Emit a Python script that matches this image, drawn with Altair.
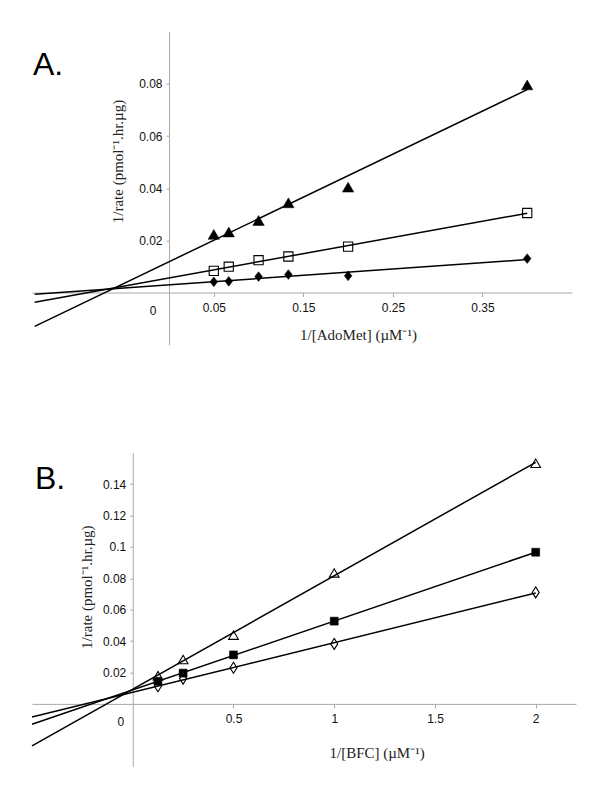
import altair as alt
import pandas as pd

# ---------------- data ----------------
a_x = [0.05, 0.0667, 0.1, 0.1333, 0.2, 0.4]
a_tri = [0.0223, 0.0232, 0.0276, 0.0344, 0.0404, 0.0796]
a_sq = [0.0083, 0.0099, 0.0124, 0.0138, 0.0176, 0.0305]
a_dia = [0.0041, 0.0043, 0.0061, 0.0069, 0.0064, 0.0130]

b_x = [0.125, 0.25, 0.5, 1.0, 2.0]
b_tri = [0.0180, 0.0283, 0.0438, 0.0834, 0.1533]
b_sq = [0.0144, 0.0196, 0.0312, 0.0527, 0.0966]
b_dia = [0.0112, 0.0161, 0.0230, 0.0382, 0.0710]

a_xticks = [0.05, 0.15, 0.25, 0.35]
a_yticks = [0.02, 0.04, 0.06, 0.08]
b_xticks = [0.5, 1, 1.5, 2]
b_yticks = [0.02, 0.04, 0.06, 0.08, 0.1, 0.12, 0.14]

a_xtitle = "1/[AdoMet] (\u00b5M\u207b\u00b9)"
b_xtitle = "1/[BFC] (\u00b5M\u207b\u00b9)"
ytitle = "1/rate (pmol\u207b\u00b9.hr.\u00b5g)"

DIAMOND_A = "M0,-1L0.78,0L0,1L-0.78,0Z"
DIAMOND_B = "M0,-1L0.64,0L0,1L-0.64,0Z"

AXIS_GRAY = "#a8a8a8"
NUM_FONT = "Liberation Sans"
TITLE_FONT = "Liberation Serif"


def frame(xs, tri, sq, dia):
    rows = []
    for name, ys in (("tri", tri), ("sq", sq), ("dia", dia)):
        for x, y in zip(xs, ys):
            rows.append({"x": x, "y": y, "s": name})
    return pd.DataFrame(rows)


def panel(df, xdom, ydom, w, h, xticks, yticks, xtitle, ext, styles, letter,
          letter_pos, ytitle_pos, xtitle_pos, zero_dx):
    # pixel location of the zero lines inside the plot
    x0_px = (0 - xdom[0]) / (xdom[1] - xdom[0]) * w
    y0_px = (ydom[1] - 0) / (ydom[1] - ydom[0]) * h
    x_off = -(h - y0_px)
    y_off = -x0_px

    xenc = alt.X(
        "x:Q",
        scale=alt.Scale(domain=xdom, nice=False, zero=False),
        axis=alt.Axis(
            values=xticks, format="~g", offset=x_off, grid=False,
            domainColor=AXIS_GRAY, domainWidth=1, tickColor=AXIS_GRAY,
            tickSize=4, labelPadding=6, labelFont=NUM_FONT, labelFontSize=12,
            labelColor="#111", title=xtitle, titleFont=TITLE_FONT,
            titleFontSize=15, titleFontWeight="normal", titleColor="#222",
            titleX=xtitle_pos[0], titleY=xtitle_pos[1] - y0_px,
            titleAlign="center", titleBaseline="middle",
        ),
    )
    yenc = alt.Y(
        "y:Q",
        scale=alt.Scale(domain=ydom, nice=False, zero=False),
        axis=alt.Axis(
            values=yticks, format="~g", offset=y_off, grid=False,
            domainColor=AXIS_GRAY, domainWidth=1, tickColor=AXIS_GRAY,
            tickSize=3, labelPadding=4, labelFont=NUM_FONT, labelFontSize=12,
            labelColor="#111", title=ytitle, titleFont=TITLE_FONT,
            titleFontSize=15, titleFontWeight="normal", titleColor="#222",
            titleX=ytitle_pos[0] - x0_px, titleY=ytitle_pos[1],
            titleAlign="center", titleBaseline="middle", titleAngle=270,
        ),
    )

    base = alt.Chart(df)
    lines = base.transform_regression(
        "x", "y", groupby=["s"], extent=ext
    ).mark_line(color="black", strokeWidth=1.5).encode(
        x=xenc, y=yenc, detail="s:N"
    )

    layers = [lines]
    for name, shape, filled, size in styles:
        sub = base.transform_filter(alt.datum.s == name)
        if filled:
            mk = sub.mark_point(shape=shape, filled=True, fill="black",
                                stroke="black", strokeWidth=0.5, size=size,
                                opacity=1)
        else:
            mk = sub.mark_point(shape=shape, filled=False, stroke="black",
                                strokeWidth=1.1, size=size, opacity=1)
        layers.append(mk.encode(x=xenc, y=yenc))

    zero = alt.Chart(pd.DataFrame({"t": ["0"]})).mark_text(
        text="0", font=NUM_FONT, fontSize=12, color="#111", dx=zero_dx, dy=18,
        align="center", baseline="middle"
    ).encode(x=alt.datum(0), y=alt.datum(0))

    lab = alt.Chart(pd.DataFrame({"t": [letter]})).mark_text(
        text=letter, font=NUM_FONT, fontSize=32, color="black",
        align="left", baseline="alphabetic"
    ).encode(x=alt.value(letter_pos[0]), y=alt.value(letter_pos[1]))

    return alt.layer(*layers, zero, lab).properties(width=w, height=h)


df_a = frame(a_x, a_tri, a_sq, a_dia)
df_b = frame(b_x, b_tri, b_sq, b_dia)

chart_a = panel(
    df_a, [-0.153, 0.45], [-0.02, 0.10], 540, 313, a_xticks, a_yticks,
    a_xtitle, [-0.15, 0.4],
    [("tri", "triangle-up", True, 130), ("sq", "square", False, 85),
     ("dia", DIAMOND_A, True, 95)],
    "A.", (1, 43), (85, 129.3), (326, 303.3), -16,
)

chart_b = panel(
    df_b, [-0.5, 2.2], [-0.04, 0.16], 544, 314, b_xticks, b_yticks,
    b_xtitle, [-0.5, 2.0],
    [("tri", "triangle-up", False, 95), ("sq", "square", True, 64),
     ("dia", DIAMOND_B, False, 121)],
    "B.", (3, 36), (54, 134), (344.6, 300.3), -12,
)

chart = alt.vconcat(chart_a, chart_b, spacing=108, bounds="flush").properties(
    padding={"left": 21, "top": 23.7, "right": 5, "bottom": 5}
).configure_view(stroke=None)

chart.save("out.html", embed_options={"renderer": "svg", "actions": False})
